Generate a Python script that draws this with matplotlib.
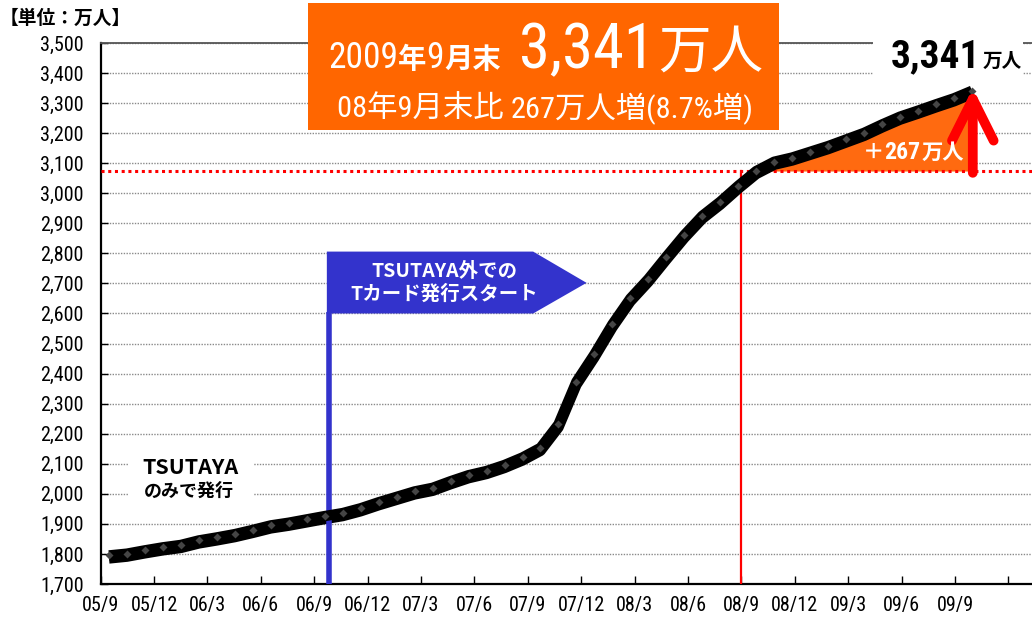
import os
import numpy as np
import matplotlib
matplotlib.use("Agg")
import matplotlib.pyplot as plt
from matplotlib import font_manager as fm
from matplotlib.patches import Rectangle, Polygon
import matplotlib.transforms as mtrans

# ---------------- data ----------------
tick_labels = ['05/9', '05/12', '06/3', '06/6', '06/9', '06/12', '07/3', '07/6',
               '07/9', '07/12', '08/3', '08/6', '08/9', '08/12', '09/3', '09/6', '09/9']
members = [1795, 1801, 1812, 1822, 1830, 1845, 1855, 1866, 1880, 1895, 1904, 1915,
           1926, 1936, 1952, 1972, 1990, 2008, 2020, 2042, 2062, 2076, 2096, 2121,
           2153, 2231, 2373, 2464, 2564, 2650, 2715, 2789, 2861, 2925, 2972, 3025,
           3074, 3105, 3119, 3138, 3157, 3179, 3201, 3229, 3255, 3275, 3296, 3316, 3341]
base_value = 3074       # 2008/9 end
latest_value = 3341     # 2009/9 end
increase = 267
yticks = list(range(1700, 3501, 100))

# ---------------- fonts ----------------
CJK = 'Noto Sans CJK JP'


def pick_narrow():
    cands = []
    for f in fm.fontManager.ttflist:
        fn = os.path.basename(f.fname).lower()
        if 'cjk' in fn or 'mono' in fn or 'serif' in fn:
            continue
        if str(f.stretch) in ('condensed', 'semi-condensed', 'extra-condensed',
                              'ultra-condensed') or 'condensed' in fn or 'narrow' in fn:
            cands.append(f)
    order = ['Liberation Sans Narrow', 'Roboto Condensed', 'DejaVu Sans', 'Open Sans',
             'Noto Sans', 'Roboto']
    for name in order:
        for f in cands:
            if f.name == name:
                return f.name, str(f.stretch)
    if cands:
        return cands[0].name, str(cands[0].stretch)
    return 'Liberation Sans', 'normal'


NARROW, STRETCH = pick_narrow()
if STRETCH not in ('condensed', 'semi-condensed', 'extra-condensed', 'ultra-condensed'):
    STRETCH = 'normal'
plt.rcParams['font.family'] = [NARROW, CJK]
plt.rcParams['font.stretch'] = STRETCH

W, H = 1032, 620
fig = plt.figure(figsize=(W / 100, H / 100), dpi=100)
fig.patch.set_facecolor('white')


def fx(x):
    return x / W


def fy(y):
    return 1 - y / H


# axes: left 100.6 px, right 1032 px, top 43 px, bottom 584 px
left_px, right_px, top_px, bot_px = 100.6, 1032, 43, 584
ax = fig.add_axes([fx(left_px), fy(bot_px), (right_px - left_px) / W, (bot_px - top_px) / H])
month_px = 17.8
ax.set_xlim(0, (right_px - left_px) / month_px)
ax.set_ylim(1700, 3500)

# ticks
ax.set_yticks(yticks)
ax.set_yticklabels([f'{v:,}' for v in yticks])
xt = [3 * k for k in range(len(tick_labels))]
ax.set_xticks(xt + [51])
ax.set_xticklabels(tick_labels + [''])
ax.tick_params(axis='y', direction='in', length=5, width=1, pad=12, labelsize=14.5,
               colors='black')
ax.tick_params(axis='x', direction='in', length=6, width=1, pad=9, labelsize=14.5)
for lab in ax.get_xticklabels() + ax.get_yticklabels():
    lab.set_family(NARROW)
    lab.set_fontstretch(STRETCH)

# grid + spines
ax.grid(axis='y', color='#8a8a8a', ls=(0, (1, 1)), lw=1.0)
ax.set_axisbelow(True)
for s in ['left', 'bottom']:
    ax.spines[s].set_color('black')
    ax.spines[s].set_linewidth(1.6)
ax.spines['right'].set_visible(False)
ax.spines['top'].set_color('#555555')
ax.spines['top'].set_linewidth(1.3)

# line positions (overlay series slightly wider spacing than axis ticks)
n = len(members)
line_x = 0.47 + np.arange(n) * 1.0101
vals = np.array(members)

# orange increase area
i0 = 36
ax.fill_between(line_x[i0:], base_value, vals[i0:], color='#FF6A10', lw=0, zorder=3)

# red reference lines
ax.axhline(base_value, color='red', ls=(0, (1, 1.2)), lw=2.2, zorder=3.5)
ax.plot([36, 36], [1700, base_value], color='red', lw=1.6, zorder=3.5)

# main line with shadow
shadow = mtrans.offset_copy(ax.transData, fig=fig, x=0, y=-3, units='dots')
ax.plot(line_x, vals, color='black', lw=7.5, transform=shadow, zorder=4,
        solid_joinstyle='round', solid_capstyle='butt')
ax.plot(line_x, vals, color='black', lw=7.5, zorder=4.1,
        solid_joinstyle='round', solid_capstyle='butt')
ax.plot(line_x, vals, ls='none', marker='D', ms=4, color='#454545', mec='none', zorder=5)

# red arrow
ax.annotate('', xy=(49.0, 3350), xytext=(49.0, 3068),
            arrowprops=dict(arrowstyle='->,head_length=1.2,head_width=0.6', lw=7,
                            color='red', shrinkA=0, shrinkB=0, mutation_scale=25,
                            capstyle='round', joinstyle='round'), zorder=6)

# blue marker line & flag
bx = 12.83
blue = '#3333CC'
ax.plot([bx, bx], [1700, 2605], color=blue, lw=4, zorder=4, solid_capstyle='butt')
ax.add_patch(Polygon([(bx - 0.12, 2600), (bx - 0.12, 2806), (24.3, 2806), (27.3, 2702),
                      (24.3, 2600)], closed=True, color=blue, lw=0, zorder=4))
ax.text(19.3, 2702, 'TSUTAYA外での\nTカード発行スタート', color='white', fontsize=14,
        fontweight='bold', ha='center', va='center', family=CJK, linespacing=1.2,
        zorder=6)

# TSUTAYA only label
ax.add_patch(Rectangle((1.54, 1968), 7.0, 160, color='white', lw=0, zorder=2.5))
ax.text(5.05, 2089, 'TSUTAYA', fontsize=15.5, fontweight='bold', ha='center', va='center',
        family=CJK, zorder=6)
ax.text(4.95, 2009, 'のみで発行', fontsize=13, fontweight='bold', ha='center',
        va='center', family=CJK, zorder=6)

# unit label
fig.text(fx(0), fy(18), '【単位：万人】', fontsize=13.5, fontweight='bold', family=CJK,
         ha='left', va='center')

renderer = fig.canvas.get_renderer()


def seq_text(pieces, left, right, baseline, zorder=3, color='black'):
    """pieces: (string, fontsize, props, gap_before_px); fitted to [left, right] px."""
    texts = []
    for s, size, props, gap in pieces:
        t = fig.text(0, fy(baseline), s, fontsize=size, ha='left', va='baseline',
                     color=color, zorder=zorder, **props)
        texts.append(t)
    widths = [t.get_window_extent(renderer).width for t in texts]
    gaps = [p[3] for p in pieces]
    scale = (right - left - sum(gaps)) / sum(widths)
    scale = min(scale, 1.08)
    for t, p in zip(texts, pieces):
        t.set_fontsize(p[1] * scale)
    widths = [t.get_window_extent(renderer).width for t in texts]
    total = sum(widths) + sum(gaps)
    x = left + ((right - left) - total) / 2
    for t, w, g in zip(texts, widths, gaps):
        x += g
        t.set_x(fx(x))
        x += w
    return texts


nar = dict(family=[NARROW, CJK], fontstretch=STRETCH)
nar_b = dict(family=[NARROW, CJK], fontstretch=STRETCH, fontweight='bold')
cjk_b = dict(family=CJK, fontweight='bold')
cjk_l = dict(family=CJK, fontweight='normal')

# top-right value
fig.add_artist(Rectangle((fx(873), fy(82)), (1023 - 873) / W, 52 / H,
                         transform=fig.transFigure, color='white', lw=0, zorder=2))
seq_text([(f'{latest_value:,}', 30, nar_b, 0), ('万人', 15, cjk_b, 2)],
         891, 1022, 67)

# "+267万人" inside the orange area
seq_text([('＋', 17, cjk_b, 0), (f'{increase}', 19, nar_b, 0), ('万人', 17, cjk_b, 1)],
         863, 964, 159, zorder=7, color='white')

# orange banner
fig.add_artist(Rectangle((fx(308), fy(130)), (779 - 308) / W, 127 / H,
                         transform=fig.transFigure, color='#FF6600', lw=0, zorder=2))
seq_text([('2009', 25, nar, 0), ('年', 20, cjk_b, 0), ('9', 25, nar, 0),
          ('月末', 20, cjk_b, 0), (f'{latest_value:,}', 44, nar, 18),
          ('万人', 37, cjk_l, 4)], 328, 764, 68, color='white')
seq_text([('08年9月末比 ', 21, nar, 0), (f'{increase}万人増(8.7%増)', 21, nar, 0)],
         337, 753, 118, color='white')

fig.savefig('out.png', dpi=100, facecolor='white')
